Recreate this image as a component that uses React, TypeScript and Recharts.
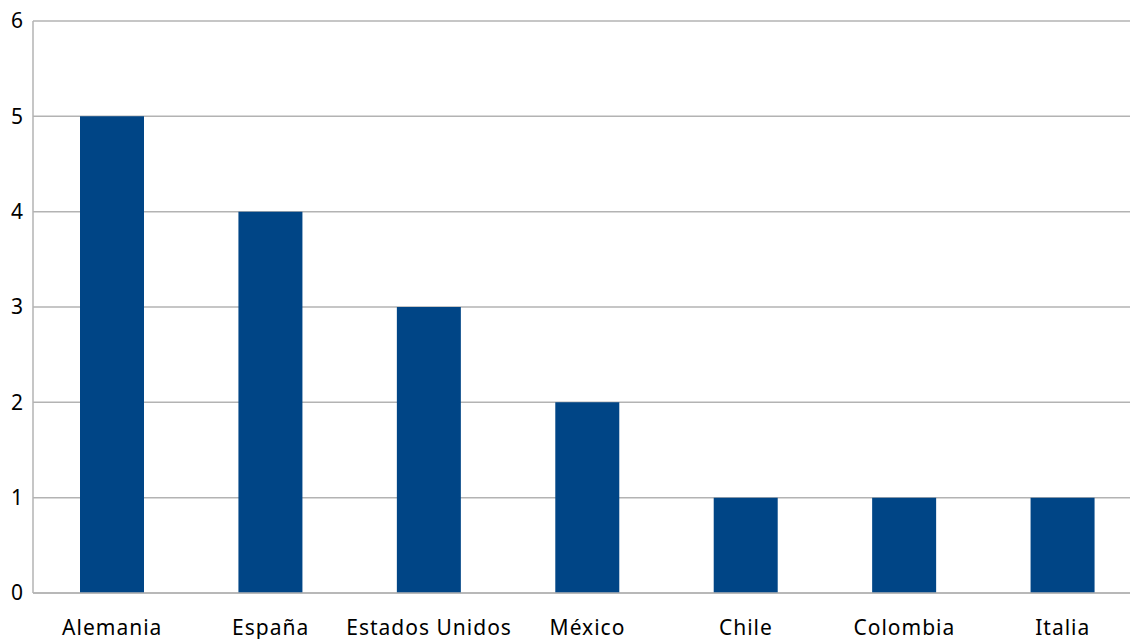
import React from "react";
import { BarChart, Bar, XAxis, YAxis, CartesianGrid } from "recharts";

const countries = ["Alemania", "España", "Estados Unidos", "México", "Chile", "Colombia", "Italia"];
const counts = [5, 4, 3, 2, 1, 1, 1];
const yTicks = [0, 1, 2, 3, 4, 5, 6];

const data = countries.map((name, i) => ({ name, value: counts[i] }));

export default function App() {
  return (
    <div style={{ position: "fixed", left: 0, top: 0, width: 1130, height: 639, overflow: "hidden", background: "#fff" }}>
      <BarChart
        width={1142}
        height={650}
        data={data}
        margin={{ top: 21, right: 0, bottom: 0, left: 0 }}
        barSize={64}
      >
        <CartesianGrid vertical={false} stroke="#b3b3b3" strokeWidth={1.5} />
        <XAxis
          dataKey="name"
          height={57}
          tickLine={false}
          tickSize={0}
          tickMargin={27}
          axisLine={{ stroke: "#b3b3b3", strokeWidth: 1.5 }}
          tick={{ fill: "#000", fontSize: 21, fontFamily: "Noto Sans", letterSpacing: 1 }}
          interval={0}
        />
        <YAxis
          width={33}
          domain={[0, 6]}
          ticks={yTicks}
          tickLine={false}
          tickSize={0}
          tickMargin={10}
          axisLine={{ stroke: "#b3b3b3", strokeWidth: 1.5 }}
          tick={{ fill: "#000", fontSize: 21, fontFamily: "Noto Sans" }}
        />
        <Bar dataKey="value" fill="#004586" isAnimationActive={false} />
      </BarChart>
    </div>
  );
}
